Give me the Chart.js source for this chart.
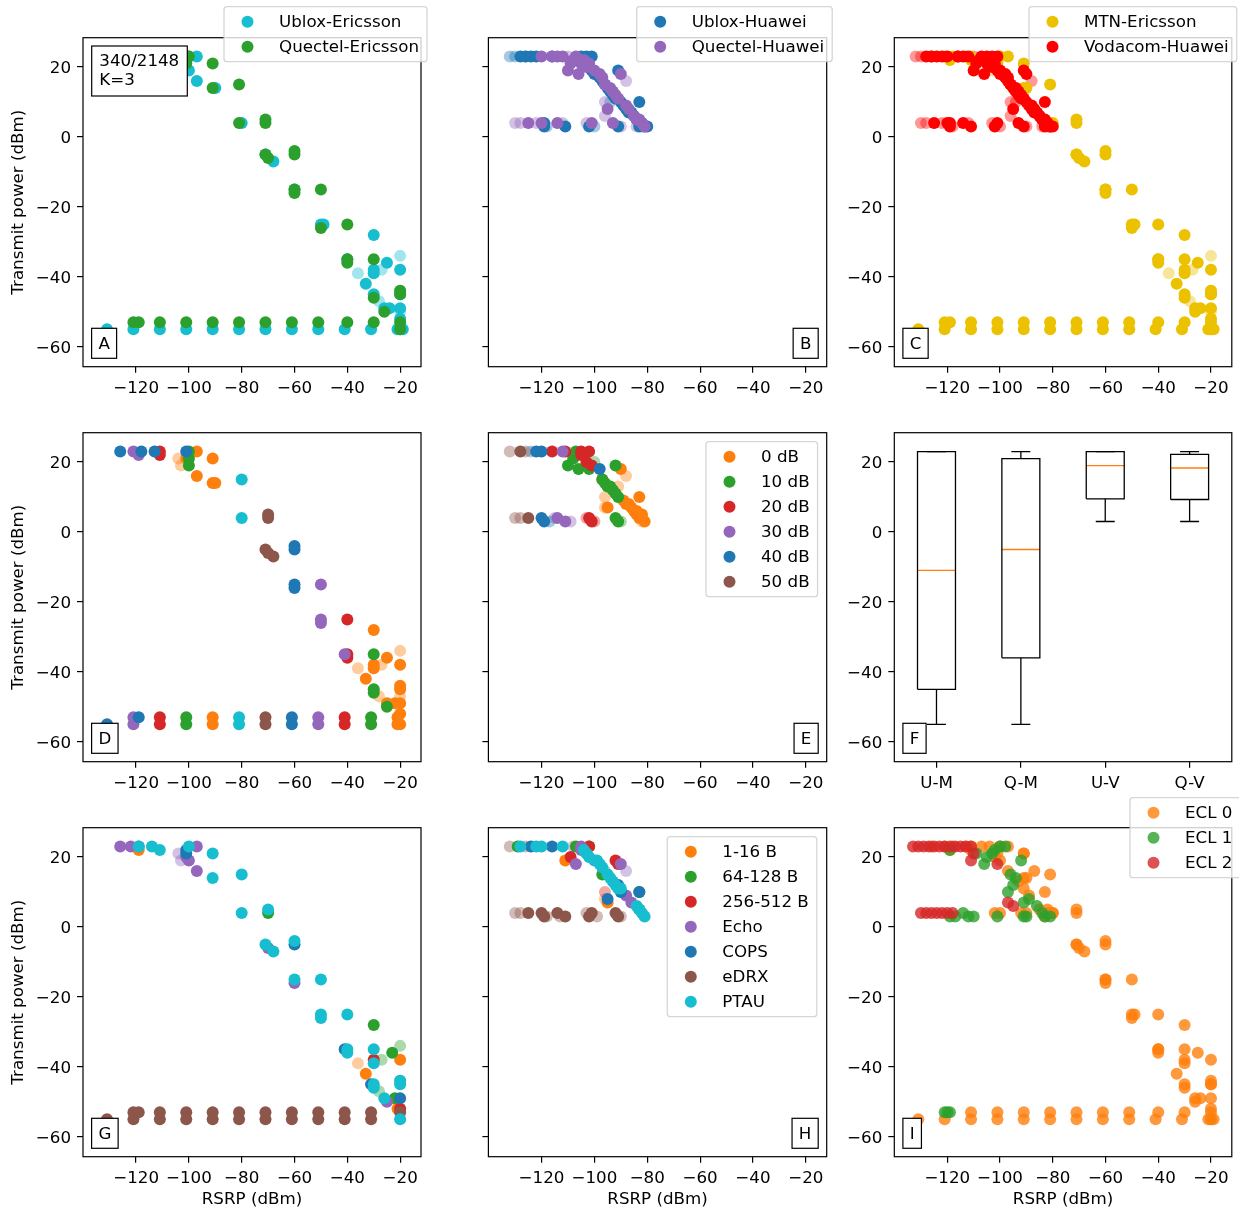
<!DOCTYPE html>
<html>
<head>
<meta charset="utf-8">
<script src="https://cdn.jsdelivr.net/npm/chart.js@4.4.1/dist/chart.umd.min.js"></script>
<style>
  body { margin: 0; background: #fff; }
  #fig { position: relative; width: 1239px; height: 1211px; }
  #fig canvas { position: absolute; left: 0; top: 0; }
</style>
</head>
<body>
<div id="fig"></div>
<script>
// ---- axis ticks / categories ----
const xTicks = [-120, -100, -80, -60, -40, -20]
const yTicks = [-60, -40, -20, 0, 20]
const boxCats = ['U-M', 'Q-M', 'U-V', 'Q-V']

// ---- Ericsson network samples (RSRP dBm, Tx power dBm) ----
const ublEri = [[-131,-55],[-121,-55],[-111,-55],[-101,-55],[-91,-55],[-81,-55],[-71,-55],[-61,-55],[-51,-55],[-41,-55],[-31,-55],[-21,-55],[-20,-55],
  [-126,23],[-118,23],[-113,23],[-100,23],[-97,23],[-100,19],[-97,16],[-90,14],[-80,4],[-71,-5],[-68,-7],[-60,-15],[-50,-25],[-49,-25],
  [-40,-35],[-30,-28],[-33,-42],[-30,-38],[-30,-39],[-30,-45],[-25,-36],[-20,-38],[-26,-49],[-24,-49],[-20,-49],[-20,-52],[-20,-45],[-19,-55]]
const ublEriFaint = [[-36,-39],[-27,-38],[-28,-47],[-20,-34],[-20,-50]]
const quecEri = [[-121,-53],[-119,-53],[-111,-53],[-101,-53],[-91,-53],[-81,-53],[-71,-53],[-61,-53],[-51,-53],[-40,-53],[-30,-53],[-20,-53],[-20,-55],
  [-121,23],[-119,22],[-111,23],[-111,22],[-100,23],[-101,21],[-91,21],[-91,14],[-81,15],[-81,4],[-71,5],[-71,4],[-71,-5],[-70,-6],
  [-60,-4],[-60,-5],[-60,-15],[-60,-16],[-50,-15],[-50,-26],[-40,-25],[-40,-35],[-40,-36],[-30,-35],[-30,-46],[-26,-50],[-20,-45],[-20,-44]]
const quecEriFaint = [[-20,-44],[-104,21],[-103,19]]

// ---- Huawei network samples ----
const ublHua = [[-128,23],[-126,23],[-124,23],[-122,23],[-116,23],[-105,23],[-103,23],[-101,23],
  [-101,19],[-100,18],[-99,18],[-98,17],[-97,16],[-96,15],[-95,14],[-94,13],[-93,12],[-92,11],[-91,19],[-90,10],[-89,9],[-88,8],
  [-87,7],[-86,7],[-85,6],[-84,5],[-83,10],[-83,4],[-82,4],[-81,3],[-80,3],
  [-119,3],[-119,4],[-111,3],[-102,3],[-91,3],[-83,3]]
const ublHuaFaint = [[-132,23],[-130,23],[-118,3],[-100,3],[-82,3],[-94,10]]
const quecHua = [[-120,23],[-116,23],[-114,23],[-112,23],[-108,22],[-107,23],[-105,21],[-104,22],[-102,21],[-110,19],[-109,21],[-106,18],
  [-103,20],[-100,19],[-98,18],[-97,17],[-96,15],[-94,14],[-93,13],[-92,12],[-91,11],[-90,18],[-95,8],[-88,9],[-87,8],[-85,6],[-84,5],
  [-83,5],[-82,4],[-81,3],[-125,4],[-120,4],[-114,4],[-101,4],[-93,4]]
const quecHuaFaint = [[-130,4],[-128,4],[-122,4],[-112,4],[-103,4],[-88,16],[-96,10],[-96,6],[-90,3],[-84,3],[-110,23],[-126,23]]

// ---- D: Ericsson by attenuation ----
const dAtt0 = [[-97,23],[-101,21],[-91,21],[-97,16],[-91,14],[-90,14],[-91,-53],[-91,-55],[-30,-28],[-30,-38],[-30,-39],[-33,-42],[-25,-36],
  [-20,-38],[-25,-49],[-22,-49],[-20,-49],[-20,-52],[-20,-45],[-20,-44],[-21,-53],[-21,-55],[-20,-55]]
const dAtt0Faint = [[-104,21],[-103,19],[-36,-39],[-27,-38],[-28,-47],[-20,-34],[-20,-47]]
const dAtt10 = [[-100,23],[-100,21],[-100,19],[-101,-53],[-101,-55],[-30,-35],[-30,-45],[-30,-46],[-25,-50],[-31,-53],[-31,-55]]
const dAtt20 = [[-111,23],[-111,22],[-111,-53],[-111,-55],[-40,-25],[-40,-35],[-40,-36],[-41,-53],[-41,-55]]
const dAtt30 = [[-121,23],[-119,22],[-121,-55],[-121,-53],[-50,-15],[-50,-25],[-50,-26],[-51,-53],[-51,-55],[-41,-35]]
const dAtt40 = [[-126,23],[-118,23],[-113,23],[-101,23],[-131,-55],[-119,-53],[-60,-4],[-60,-5],[-60,-15],[-60,-16],[-61,-53],[-61,-55]]
const dAtt50 = [[-70,5],[-70,4],[-71,-5],[-70,-6],[-68,-7],[-71,-53],[-71,-55]]
const dAtt60 = [[-80,15],[-80,4],[-81,-53],[-81,-55]]

// ---- E: Huawei by attenuation ----
const eAtt0 = [[-90,18],[-97,15],[-83,10],[-95,7],[-89,9],[-88,8],[-87,8],[-85,6],[-84,6],[-83,4],[-82,4],[-81,3],[-82,5],[-86,7],[-84,5]]
const eAtt0Faint = [[-88,16],[-96,10],[-96,7],[-82,3],[-91,13]]
const eAtt10 = [[-107,23],[-110,19],[-106,18],[-108,21],[-102,18],[-97,15],[-96,14],[-95,13],[-94,13],[-93,12],[-92,11],[-91,10],
  [-92,19],[-92,4],[-91,3]]
const eAtt10Faint = [[-90,3],[-100,20]]
const eAtt20 = [[-116,23],[-111,23],[-105,23],[-102,23],[-105,22],[-103,20],[-101,19],[-102,4],[-101,3]]
const eAtt20Faint = [[-103,4],[-100,3]]
const eAtt30 = [[-112,23],[-114,4],[-111,3]]
const eAtt30Faint = [[-109,3],[-115,4]]
const eAtt40 = [[-122,23],[-120,23],[-98,18],[-120,4],[-119,3]]
const eAtt40Faint = [[-124,23],[-117,3]]
const eAtt50 = [[-128,23],[-125,4]]
const eAtt50Faint = [[-132,23],[-130,4],[-128,4],[-126,23]]

// ---- G: Ericsson by message type ----
const g116 = [[-119,22],[-33,-42],[-20,-38],[-21,-52]]
const g116Faint = [[-36,-39]]
const g64 = [[-70,4],[-30,-28],[-23,-36],[-22,-49]]
const g64Faint = [[-20,-34],[-27,-38],[-28,-47]]
const g256 = [[-30,-38],[-20,-52]]
const gEcho = [[-126,23],[-122,23],[-119,23],[-97,23],[-101,20],[-100,19],[-97,16],[-60,-16],[-70,-6],[-25,-50]]
const gEchoFaint = [[-104,21],[-103,19]]
const gCops = [[-101,22],[-101,21],[-60,-5],[-31,-45],[-20,-49],[-41,-35]]
const gCopsFaint = [[-20,-44]]
const gEdrx = [[-131,-55],[-121,-55],[-121,-53],[-119,-53],[-111,-53],[-111,-55],[-101,-53],[-101,-55],[-91,-53],[-91,-55],[-81,-53],[-81,-55],
  [-71,-53],[-71,-55],[-61,-53],[-61,-55],[-51,-53],[-51,-55],[-41,-53],[-41,-55],[-31,-53],[-31,-55],[-20,-53]]
const gPtau = [[-119,23],[-114,23],[-111,22],[-100,23],[-91,21],[-91,14],[-80,15],[-80,4],[-70,5],[-71,-5],[-68,-7],[-60,-4],[-60,-15],
  [-50,-15],[-50,-25],[-50,-26],[-40,-25],[-40,-35],[-40,-36],[-30,-35],[-30,-39],[-30,-45],[-30,-46],[-26,-49],[-20,-45],[-20,-44],[-20,-55]]

// ---- H: Huawei by message type ----
const h116 = [[-111,19],[-95,7]]
const h116Faint = [[-96,8]]
const h64 = [[-129,23],[-107,23],[-102,23],[-97,15],[-83,10],[-83,5]]
const h64Faint = [[-96,16]]
const h256 = [[-102,23],[-109,20],[-92,19],[-91,18]]
const h256Faint = [[-96,10]]
const hEcho = [[-105,23],[-107,18],[-90,18],[-88,9],[-86,7],[-105,22]]
const hEchoFaint = [[-88,16],[-108,23]]
const hCops = [[-124,23],[-116,23],[-95,8],[-91,12],[-90,10],[-83,10]]
const hEdrx = [[-125,4],[-120,4],[-119,3],[-114,4],[-111,3],[-102,3],[-101,4],[-92,4],[-91,3]]
const hEdrxFaint = [[-132,23],[-130,4],[-128,4],[-118,3],[-113,3],[-103,4],[-99,3],[-90,3],[-126,23]]
const hPtau = [[-128,23],[-122,23],[-120,23],[-112,23],[-104,22],[-103,21],[-102,20],[-100,19],[-99,19],[-98,18],[-97,17],[-95,15],
  [-94,14],[-93,13],[-92,12],[-91,11],[-90,11],[-84,6],[-83,5],[-82,4],[-81,3]]

// ---- I: coverage enhancement level ----
const iEcl1Eri = [[-121,-53],[-120,-53],[-119,-53]]
const iEcl0Hua = [[-107,23],[-104,23],[-102,20],[-91,21],[-87,16],[-83,10],[-91,11],[-93,13],[-89,9],[-85,5],[-82,5],[-80,4],
  [-102,4],[-100,4],[-92,4],[-90,4],[-82,4],[-83,3]]
const iEcl1Hua = [[-119,22],[-98,23],[-109,21],[-105,20],[-102,22],[-100,23],[-96,15],[-92,19],[-97,10],[-95,12],[-94,14],[-91,7],[-89,8],
  [-86,6],[-84,4],[-119,3],[-117,3],[-114,4],[-112,3],[-110,3],[-101,3],[-91,3],[-90,3],[-83,3],[-81,3],[-106,18],[-103,21]]
const iEcl2Hua = [[-133,23],[-131,23],[-129,23],[-127,23],[-125,23],[-123,23],[-121,23],[-119,23],[-117,23],[-115,23],[-113,23],[-111,23],
  [-111,19],[-110,21],[-101,18],[-97,7],[-95,6],[-130,4],[-128,4],[-126,4],[-124,4],[-122,4],[-120,4],[-118,4]]

// ---- F: box plot statistics ----
const boxMin = [-55, -55, 3, 3]
const boxQ1 = [-45, -36, 9.5, 9.3]
const boxMed = [-11, -5, 19, 18.3]
const boxQ3 = [23, 21, 23, 22.2]
const boxMax = [23, 23, 23, 23]

// ---- layout ----
const W = 1239, H = 1211
const colLeft = [83, 488.4, 894.3]
const colRight = [421, 826.7, 1231.8]
const rowTop = [37.7, 432.7, 827.7]
const rowBottom = [366.7, 761.7, 1156.7]
const xRange = [-140.1, -12.1]
const yRange = [-65.7, 28.4]
const YW = 60, XH = 40
const FONT = '"DejaVu Sans", sans-serif'
const FS = 16.7
const DOT = 6

const C = {
  blue: '#1f77b4', orange: '#ff7f0e', green: '#2ca02c', red: '#d62728', purple: '#9467bd',
  brown: '#8c564b', cyan: '#17becf', gold: '#ebc100', pure: '#ff0000',
}
const fade = (hex, a) => {
  const n = parseInt(hex.slice(1), 16)
  return `rgba(${n >> 16},${(n >> 8) & 255},${n & 255},${a})`
}
const pts = arr => arr.map(([x, y]) => ({ x, y }))
const minus = v => String(v).replace('-', '\u2212')

Chart.defaults.font.family = FONT
Chart.defaults.font.size = FS
Chart.defaults.color = '#000'

const ericAll = [...ublEri, ...quecEri]
const ericAllFaint = [...ublEriFaint, ...quecEriFaint]
const iEcl0Eri = ericAll.filter(p => !(p[1] === -53 && p[0] <= -119))

const panels = [
  { tag: 'A', col: 0, row: 0, legend: { x: 224, y: 6.7 }, note: ['340/2148', 'K=3'], sets: [
    { label: 'Ublox-Ericsson', color: C.cyan, data: ublEri, faint: ublEriFaint },
    { label: 'Quectel-Ericsson', color: C.green, data: quecEri, faint: quecEriFaint }] },
  { tag: 'B', col: 1, row: 0, right: true, legend: { x: 636.7, y: 6.7 }, sets: [
    { label: 'Ublox-Huawei', color: C.blue, data: ublHua, faint: ublHuaFaint },
    { label: 'Quectel-Huawei', color: C.purple, data: quecHua, faint: quecHuaFaint }] },
  { tag: 'C', col: 2, row: 0, legend: { x: 1029, y: 6.7 }, sets: [
    { label: 'MTN-Ericsson', color: C.gold, data: ericAll, faint: ericAllFaint },
    { label: 'Vodacom-Huawei', color: C.pure, data: [...ublHua, ...quecHua], faint: [...ublHuaFaint, ...quecHuaFaint] }] },
  { tag: 'D', col: 0, row: 1, sets: [
    { label: '0 dB', color: C.orange, data: dAtt0, faint: dAtt0Faint },
    { label: '10 dB', color: C.green, data: dAtt10 },
    { label: '20 dB', color: C.red, data: dAtt20 },
    { label: '30 dB', color: C.purple, data: dAtt30 },
    { label: '40 dB', color: C.blue, data: dAtt40 },
    { label: '50 dB', color: C.brown, data: dAtt50 },
    { label: '60 dB', color: C.cyan, data: dAtt60 }] },
  { tag: 'E', col: 1, row: 1, right: true, legend: { x: 706, y: 441.7 }, sets: [
    { label: '0 dB', color: C.orange, data: eAtt0, faint: eAtt0Faint },
    { label: '10 dB', color: C.green, data: eAtt10, faint: eAtt10Faint },
    { label: '20 dB', color: C.red, data: eAtt20, faint: eAtt20Faint },
    { label: '30 dB', color: C.purple, data: eAtt30, faint: eAtt30Faint },
    { label: '40 dB', color: C.blue, data: eAtt40, faint: eAtt40Faint },
    { label: '50 dB', color: C.brown, data: eAtt50, faint: eAtt50Faint }] },
  { tag: 'F', col: 2, row: 1, box: true },
  { tag: 'G', col: 0, row: 2, sets: [
    { label: '1-16 B', color: C.orange, data: g116, faint: g116Faint },
    { label: '64-128 B', color: C.green, data: g64, faint: g64Faint },
    { label: '256-512 B', color: C.red, data: g256 },
    { label: 'Echo', color: C.purple, data: gEcho, faint: gEchoFaint },
    { label: 'COPS', color: C.blue, data: gCops, faint: gCopsFaint },
    { label: 'eDRX', color: C.brown, data: gEdrx },
    { label: 'PTAU', color: C.cyan, data: gPtau }] },
  { tag: 'H', col: 1, row: 2, right: true, legend: { x: 667.3, y: 836.7 }, sets: [
    { label: '1-16 B', color: C.orange, data: h116, faint: h116Faint },
    { label: '64-128 B', color: C.green, data: h64, faint: h64Faint },
    { label: '256-512 B', color: C.red, data: h256, faint: h256Faint },
    { label: 'Echo', color: C.purple, data: hEcho, faint: hEchoFaint },
    { label: 'COPS', color: C.blue, data: hCops },
    { label: 'eDRX', color: C.brown, data: hEdrx, faint: hEdrxFaint },
    { label: 'PTAU', color: C.cyan, data: hPtau }] },
  { tag: 'I', col: 2, row: 2, legend: { x: 1130, y: 797.7 }, sets: [
    { label: 'ECL 0', color: fade(C.orange, 0.8), data: [...iEcl0Eri, ...iEcl0Hua] },
    { label: 'ECL 1', color: fade(C.green, 0.8), data: [...iEcl1Eri, ...iEcl1Hua] },
    { label: 'ECL 2', color: fade(C.red, 0.8), data: iEcl2Hua }] },
]

// faint copies underneath, later series drawn on top (as in matplotlib)
function scatterSets(sets) {
  const out = []
  sets.forEach(s => {
    if (s.faint) out.push({ label: s.label + ' (faint)', data: pts(s.faint), backgroundColor: fade(s.color, 0.4) })
  })
  sets.forEach(s => out.push({ label: s.label, data: pts(s.data), backgroundColor: s.color }))
  return out.map((d, i, all) => ({
    ...d, borderWidth: 0, pointRadius: DOT, pointHoverRadius: DOT, order: all.length - i,
  }))
}

function boxSets() {
  const out = []
  const line = (data, color) => out.push({
    data: pts(data), showLine: true, borderColor: color, borderWidth: 1.3,
    pointRadius: 0, fill: false, backgroundColor: color,
  })
  const hw = 0.225, cw = 0.1125
  boxCats.forEach((_, i) => {
    const p = i + 1
    line([[p - hw, boxQ1[i]], [p + hw, boxQ1[i]], [p + hw, boxQ3[i]], [p - hw, boxQ3[i]], [p - hw, boxQ1[i]]], '#000')
    line([[p, boxQ1[i]], [p, boxMin[i]]], '#000')
    line([[p, boxQ3[i]], [p, boxMax[i]]], '#000')
    line([[p - cw, boxMin[i]], [p + cw, boxMin[i]]], '#000')
    line([[p - cw, boxMax[i]], [p + cw, boxMax[i]]], '#000')
    line([[p - hw, boxMed[i]], [p + hw, boxMed[i]]], C.orange)
  })
  return out
}

function decor(p) {
  return {
    id: 'decor' + p.tag,
    afterDraw(chart) {
      const { ctx, chartArea: a } = chart
      ctx.save()
      ctx.strokeStyle = '#000'
      ctx.lineWidth = 1.2
      ctx.strokeRect(a.left, a.top, a.right - a.left, a.bottom - a.top)
      ctx.font = `${FS}px ${FONT}`
      ctx.fillStyle = '#000'
      ctx.textBaseline = 'middle'

      // axis titles
      if (p.col === 0) {
        ctx.save()
        ctx.translate(18.5, (a.top + a.bottom) / 2)
        ctx.rotate(-Math.PI / 2)
        ctx.textAlign = 'center'
        ctx.fillText('Transmit power (dBm)', 0, 0)
        ctx.restore()
      }
      if (p.row === 2) {
        ctx.textAlign = 'center'
        ctx.fillText('RSRP (dBm)', (a.left + a.right) / 2, 1200)
      }

      // panel tag
      const tw = ctx.measureText(p.tag).width + 13.6
      const tx = p.right ? a.right - 8.5 - tw : a.left + 8.6
      const ty = a.bottom - 8.4 - 30
      ctx.fillStyle = '#fff'
      ctx.fillRect(tx, ty, tw, 30)
      ctx.strokeRect(tx, ty, tw, 30)
      ctx.fillStyle = '#000'
      ctx.textAlign = 'center'
      ctx.fillText(p.tag, tx + tw / 2, ty + 16)

      // note box
      if (p.note) {
        ctx.fillStyle = '#fff'
        ctx.fillRect(91.7, 46, 95.6, 50)
        ctx.strokeRect(91.7, 46, 95.6, 50)
        ctx.fillStyle = '#000'
        ctx.textAlign = 'left'
        p.note.forEach((t, i) => ctx.fillText(t, 99.3, 61.5 + i * 19.5))
      }

      // legend
      if (p.legend) {
        const items = p.sets
        const widths = items.map(s => ctx.measureText(s.label).width)
        const lw = 55 + Math.max(...widths) + 8
        const lh = 30 + 25 * (items.length - 1)
        const { x, y } = p.legend
        ctx.beginPath()
        ctx.roundRect(x, y, lw, lh, 3)
        ctx.fillStyle = 'rgba(255,255,255,0.8)'
        ctx.fill()
        ctx.strokeStyle = 'rgba(204,204,204,0.8)'
        ctx.lineWidth = 1.3
        ctx.stroke()
        ctx.textAlign = 'left'
        items.forEach((s, i) => {
          const cy = y + 15 + i * 25
          ctx.beginPath()
          ctx.arc(x + 23.5, cy, DOT, 0, Math.PI * 2)
          ctx.fillStyle = s.color
          ctx.fill()
          ctx.fillStyle = '#000'
          ctx.fillText(s.label, x + 55, cy + 1)
        })
      }
      ctx.restore()
    },
  }
}

const fig = document.getElementById('fig')
panels.forEach(p => {
  const canvas = document.createElement('canvas')
  canvas.width = W
  canvas.height = H
  canvas.style.width = W + 'px'
  canvas.style.height = H + 'px'
  fig.appendChild(canvas)

  const L = colLeft[p.col], R = colRight[p.col], T = rowTop[p.row], B = rowBottom[p.row]
  const xVals = p.box ? boxCats.map((_, i) => i + 1) : xTicks
  const tickGrid = { drawOnChartArea: false, drawTicks: true, tickLength: 6, color: '#000', lineWidth: 1.2 }

  new Chart(canvas, {
    type: 'scatter',
    data: { datasets: p.box ? boxSets() : scatterSets(p.sets) },
    options: {
      responsive: false,
      animation: false,
      devicePixelRatio: 1,
      events: [],
      layout: {
        autoPadding: false,
        padding: { left: L - YW, top: T, right: W - R, bottom: H - B - XH },
      },
      plugins: { legend: { display: false }, tooltip: { enabled: false } },
      scales: {
        x: {
          type: 'linear',
          min: p.box ? 0.5 : xRange[0],
          max: p.box ? 4.5 : xRange[1],
          afterFit: s => { s.height = XH },
          afterBuildTicks: s => { s.ticks = xVals.map(v => ({ value: v })) },
          ticks: {
            padding: 5.5, maxRotation: 0, autoSkip: false,
            callback: v => p.box ? boxCats[v - 1] : minus(v),
          },
          grid: tickGrid,
          border: { display: false },
        },
        y: {
          type: 'linear',
          min: yRange[0],
          max: yRange[1],
          afterFit: s => { s.width = YW },
          afterBuildTicks: s => { s.ticks = yTicks.map(v => ({ value: v })) },
          ticks: {
            padding: 6, autoSkip: false, labelOffset: 1.5,
            callback: v => p.col === 1 ? '' : minus(v),
          },
          grid: tickGrid,
          border: { display: false },
        },
      },
    },
    plugins: [decor(p)],
  })
})
</script>
</body>
</html>
